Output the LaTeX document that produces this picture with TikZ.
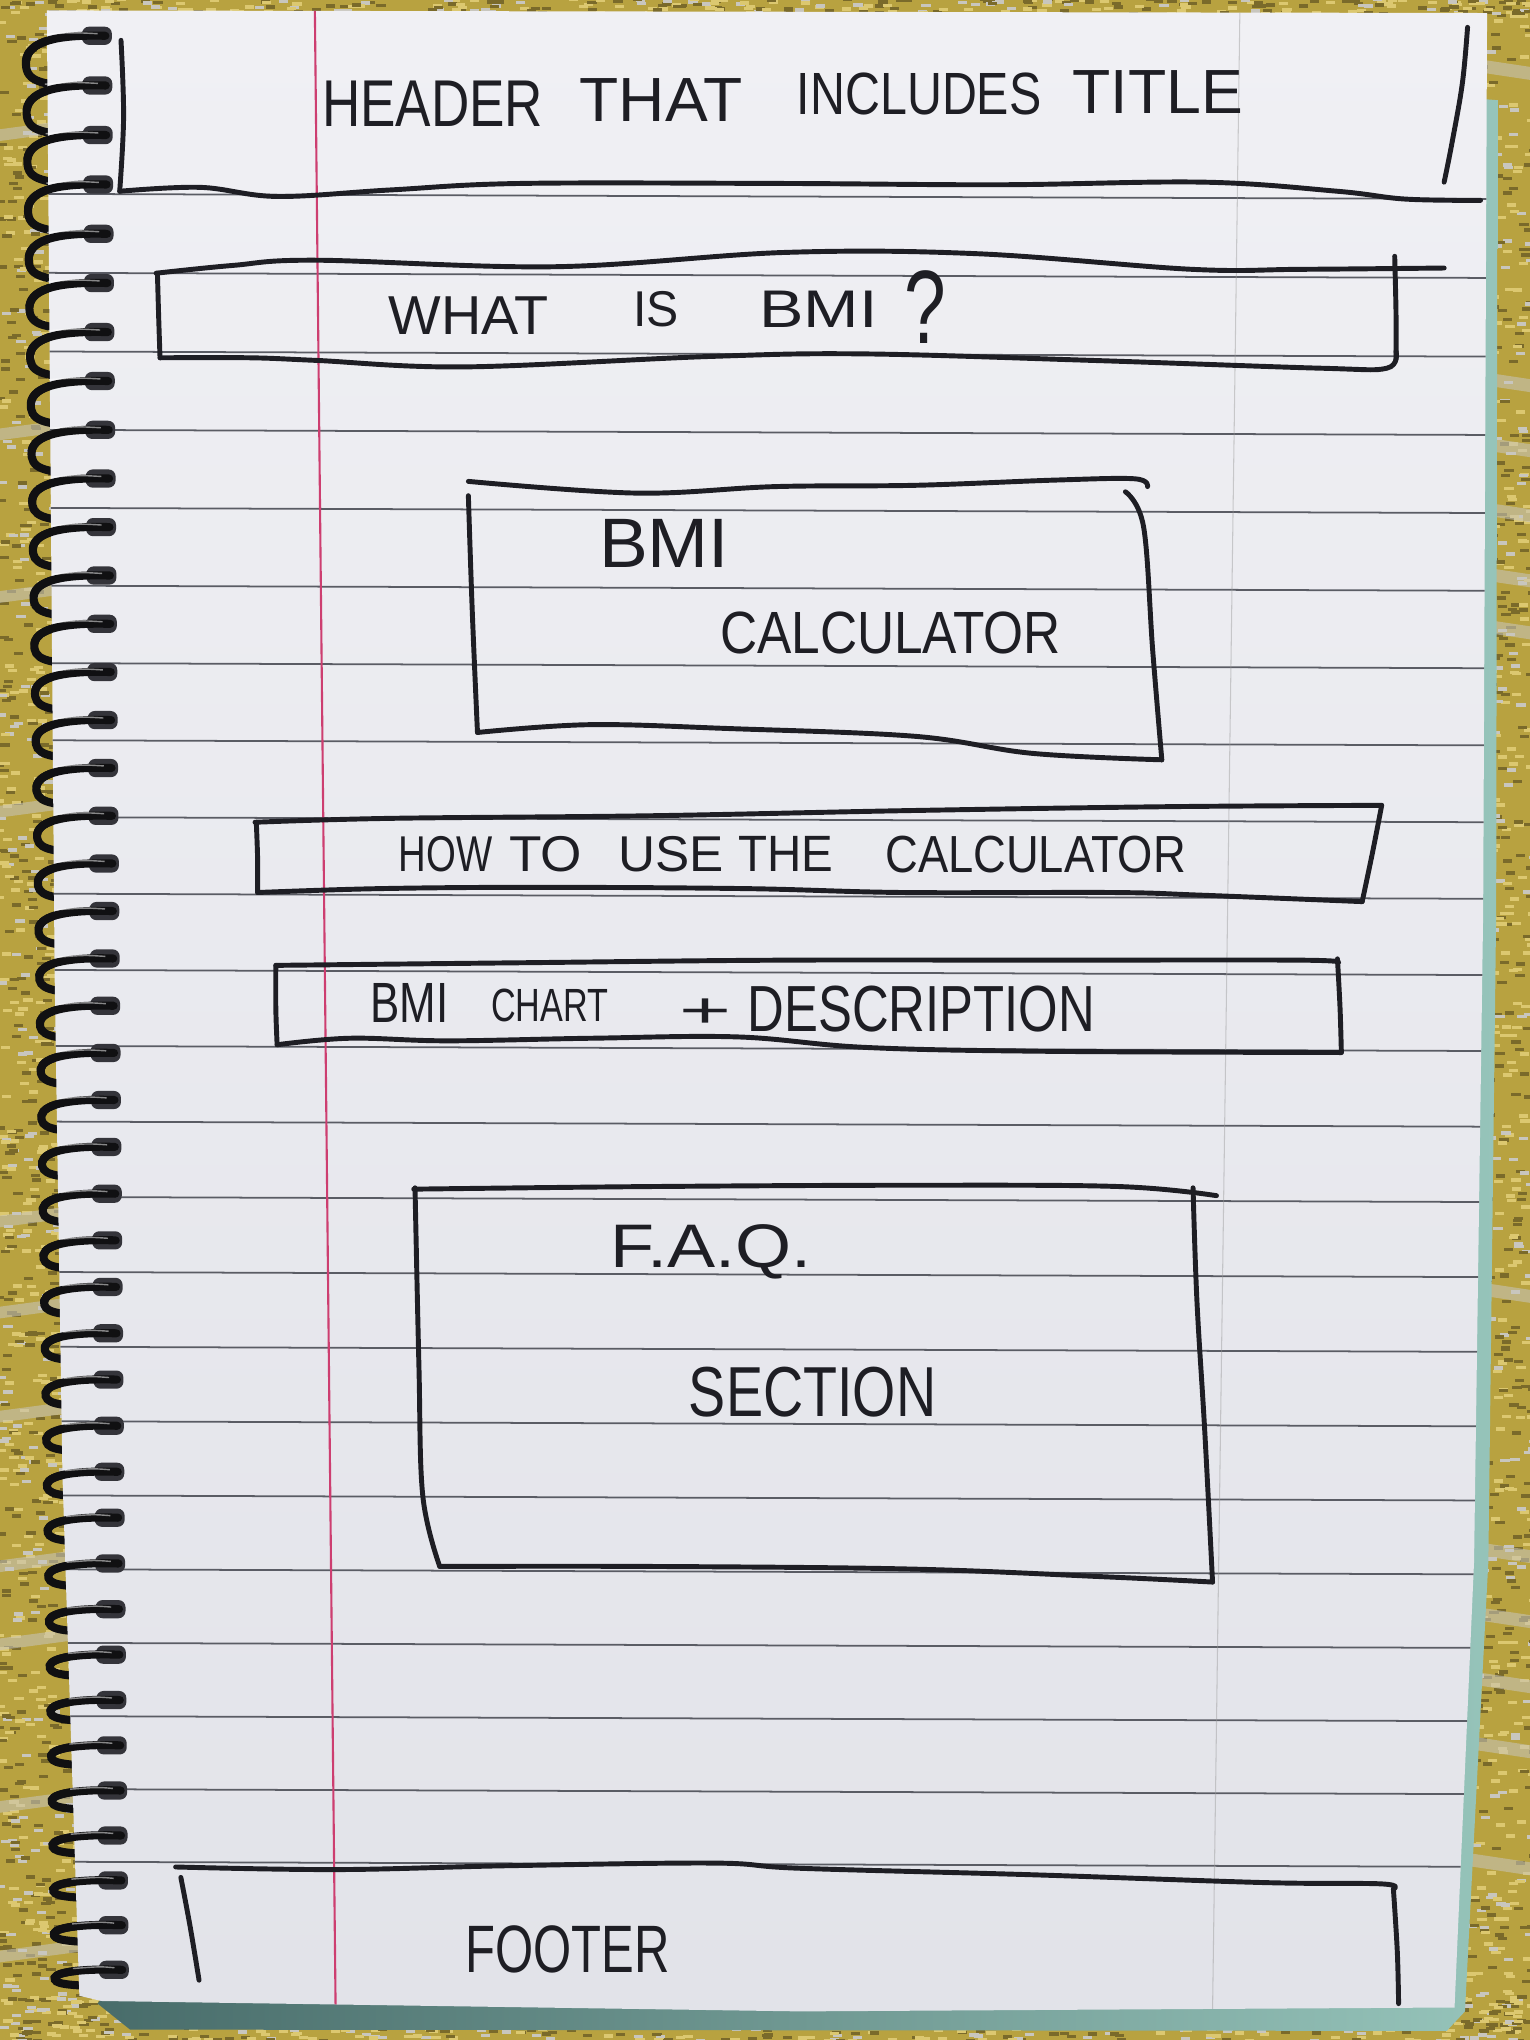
\documentclass[tikz,border=0pt]{standalone}
\usepackage{fontspec}
\setmainfont{Liberation Sans}
\usepackage{graphicx}
\newlength\ul
\setlength\ul{0.013cm}
\definecolor{ink}{RGB}{30,30,36}
\definecolor{rulec}{RGB}{90,92,100}
\definecolor{marginc}{RGB}{205,62,112}
\definecolor{fabric}{RGB}{184,162,64}
\definecolor{fabhi}{RGB}{220,200,112}
\definecolor{fabgray}{RGB}{200,198,190}
\definecolor{fabdark}{RGB}{122,106,42}
\definecolor{tealA}{RGB}{150,196,186}
\definecolor{tealB}{RGB}{72,108,106}
\definecolor{paperT}{RGB}{240,240,244}
\definecolor{paperB}{RGB}{226,227,233}
\definecolor{wire}{RGB}{16,16,18}
\definecolor{holec}{RGB}{52,52,58}
% handwritten word: name, x, baseline, width, cap height, text
\newcommand\hw[6]{\node[inner sep=0pt, anchor=base west, text=ink] (#1) at (#2,#3) {\resizebox{#4\ul}{#5\ul}{#6}};}
\pgfmathdeclarerandomlist{fabcols}{{fabhi}{fabdark}{fabgray}{fabhi}{fabdark}}
\begin{document}
\begin{tikzpicture}[x=0.013cm, y=-0.013cm,
  pen/.style={draw=ink, line width=1.4pt, line cap=round, line join=round},
  ruleline/.style={draw=rulec, line width=0.5pt},
  ringwire/.style={draw=wire, line width=2.3pt, line cap=round}]
\useasboundingbox (0,0) rectangle (1176,1568);
\clip (0,0) rectangle (1176,1568);

% --- fabric underneath the notebook
\fill[fabric] (0,0) rectangle (1176,1568);
\pgfmathsetseed{4242}
\foreach \i in {1,...,1300} {
  \pgfmathsetmacro\px{rnd*80-4}\pgfmathsetmacro\py{rnd*1570}
  \pgfmathrandomitem{\fc}{fabcols}
  \fill[\fc] (\px,\py) rectangle ++(7,2.6);
}
\foreach \i in {1,...,1100} {
  \pgfmathsetmacro\px{1105+rnd*75}\pgfmathsetmacro\py{rnd*1570}
  \pgfmathrandomitem{\fc}{fabcols}
  \fill[\fc] (\px,\py) rectangle ++(7,2.6);
}
\foreach \i in {1,...,900} {
  \pgfmathsetmacro\px{rnd*1180}\pgfmathsetmacro\py{1530+rnd*40}
  \pgfmathrandomitem{\fc}{fabcols}
  \fill[\fc] (\px,\py) rectangle ++(7,2.6);
}
\foreach \i in {1,...,350} {
  \pgfmathsetmacro\px{rnd*1180}\pgfmathsetmacro\py{rnd*14-3}
  \pgfmathrandomitem{\fc}{fabcols}
  \fill[\fc] (\px,\py) rectangle ++(7,2.6);
}
% grey woven bands of the fabric pattern
\foreach \yb in {100,330,455,620,935,1005,1085,1200,1260,1385,1500} {
  \fill[fabgray, opacity=.55] (-5,\yb) -- ++(90,-12) -- ++(0,9) -- ++(-90,12) -- cycle;
}
\foreach \yb in {40,280,330,380,430,470,980,1180,1230,1280,1330,1420} {
  \fill[fabgray, opacity=.55] (1100,\yb) -- ++(80,12) -- ++(0,10) -- ++(-80,-12) -- cycle;
}

% --- teal back cover peeking out
\shade[left color=tealB, right color=tealA]
  (1125,75) -- (1151,77) -- (1150,700) -- (1144,1200) -- (1126,1546) -- (1112,1561)
  -- (100,1560) -- (75,1540) -- cycle;

% --- spiral loops (behind the page edge)
\foreach \k in {0,...,41} {
  \pgfmathsetmacro\t{\k/41}
  \pgfmathsetmacro\yy{27.5+38.25*\k-0.0486*\k*\k}
  \pgfmathsetmacro\xr{85+13*\t}
  \pgfmathsetmacro\xl{20+22*\t}
  \pgfmathsetmacro\hh{38-26*\t}
  \draw[ringwire] (\xr-4,\yy) .. controls (\xl+25,\yy-1) and (\xl+2,\yy+0.1*\hh) .. (\xl,\yy+0.5*\hh)
     .. controls (\xl-1,\yy+0.9*\hh) and (\xl+8,\yy+\hh) .. (\xl+45,\yy+\hh+1);
}

% --- the page
\shade[top color=paperT, bottom color=paperB]
  (36,8) -- (1143,10) -- (1140,700) -- (1133,1200) -- (1118,1543) -- (615,1546) -- (78,1538) -- (61,1534)
  -- (48,1134) -- (42,750) -- cycle;
\begin{scope}
  \clip (36,8) -- (1143,10) -- (1140,700) -- (1133,1200) -- (1118,1543) -- (615,1546) -- (78,1538) -- (61,1534)
  -- (48,1134) -- (42,750) -- cycle;
  \foreach \n in {0,...,22} {
    \pgfmathsetmacro\yl{149+60.8*\n-0.115*\n*\n}
    \draw[ruleline] (30,\yl) -- (1160,\yl+4);
  }
  \draw[marginc, line width=0.6pt] (242,6) -- (258,1548);
  \draw[black!40, opacity=.45, line width=0.3pt] (953,9) -- (932,1546);
\end{scope}

% --- header
\draw[pen] plot[smooth, tension=0.6] coordinates {(93,31) (95,90) (92,147)};
\draw[pen] plot[smooth, tension=0.6] coordinates {(92,147) (154,144) (213,151) (300,146) (400,141) (600,141) (769,142) (925,140) (1028,147) (1080,153) (1138,154)};
\draw[pen] plot[smooth, tension=0.6] coordinates {(1128,21) (1124,64) (1116,110) (1110,140)};
\hw{hdrA}{247}{97}{170}{35}{HEADER}
\hw{hdrB}{445}{93}{125}{33}{THAT}
\hw{hdrC}{612}{88}{188}{32}{INCLUDES}
\hw{hdrD}{824}{87}{131}{33}{TITLE}

% --- what is BMI
\draw[pen] plot[smooth, tension=0.6] coordinates {(120,210) (179,204) (243,200) (427,205) (604,194) (751,195) (916,207) (1000,207) (1110,206)};
\draw[pen] plot[smooth, tension=0.6] coordinates {(121,210) (122,245) (123,275)};
\draw[pen] plot[smooth, tension=0.6] coordinates {(123,275) (192,275) (243,277) (357,282) (545,274) (663,272) (839,277) (1015,283) (1066,283) (1073,270)};
\draw[pen] plot[smooth, tension=0.6] coordinates {(1072,197) (1073,240) (1073,276)};
\hw{whatA}{298}{257}{123}{29}{WHAT}
\hw{whatB}{486}{251}{35}{27}{IS}
\hw{whatC}{583}{252}{91}{28}{BMI}
\hw{whatD}{695}{264}{32}{56}{?}

% --- calculator panel
\draw[pen] plot[smooth, tension=0.6] coordinates {(360,370) (489,379) (596,374) (704,373) (811,369) (872,368) (882,374)};
\draw[pen] plot[smooth, tension=0.6] coordinates {(360,381) (363,470) (367,563)};
\draw[pen] plot[smooth, tension=0.6] coordinates {(367,563) (453,557) (561,560) (704,566) (793,579) (893,584)};
\draw[pen] plot[smooth, tension=0.6] coordinates {(865,378) (879,405) (886,500) (893,584)};
\hw{calcA}{460}{436}{100}{37}{BMI}
\hw{calcB}{553}{502}{262}{32}{CALCULATOR}

% --- how to use
\draw[pen] plot[smooth, tension=0.6] coordinates {(196,632) (300,629) (500,627) (700,623) (900,620) (1062,619)};
\draw[pen] plot[smooth, tension=0.6] coordinates {(197,632) (198,660) (198,686)};
\draw[pen] plot[smooth, tension=0.6] coordinates {(198,686) (292,683) (413,682) (573,683) (694,686) (855,686) (922,688) (1047,693)};
\draw[pen] plot[smooth, tension=0.6] coordinates {(1062,619) (1055,655) (1047,693)};
\hw{howA}{306}{670}{72}{27}{HOW}
\hw{howB}{391}{670}{56}{27}{TO}
\hw{howC}{475}{670}{81}{27}{USE}
\hw{howD}{567}{670}{73}{27}{THE}
\hw{howE}{680}{671}{231}{28}{CALCULATOR}

% --- chart + description
\draw[pen] plot[smooth, tension=0.6] coordinates {(212,742) (400,740) (600,738) (800,738) (1000,738) (1028,740)};
\draw[pen] plot[smooth, tension=0.6] coordinates {(212,742) (212,775) (213,803)};
\draw[pen] plot[smooth, tension=0.6] coordinates {(213,803) (269,798) (344,800) (455,798) (567,797) (664,805) (800,808) (1031,809)};
\draw[pen] plot[smooth, tension=0.6] coordinates {(1028,737) (1030,775) (1031,809)};
\hw{chA}{284}{786}{60}{30}{BMI}
\hw{chB}{377}{785}{90}{25}{CHART}
\hw{chC}{522}{790}{40}{22}{+}
\hw{chD}{574}{793}{267}{35}{DESCRIPTION}

% --- FAQ panel
\draw[pen] plot[smooth, tension=0.6] coordinates {(318,914) (500,912) (700,911) (860,912) (935,919)};
\draw[pen] plot[smooth, tension=0.6] coordinates {(319,913) (322,1050) (325,1150) (338,1204)};
\draw[pen] plot[smooth, tension=0.6] coordinates {(338,1204) (500,1204) (700,1206) (850,1212) (932,1216)};
\draw[pen] plot[smooth, tension=0.6] coordinates {(917,913) (920,1000) (926,1100) (932,1216)};
\hw{faqA}{469}{974}{154}{33}{F.A.Q.}
\hw{faqB}{529}{1089}{190}{38}{SECTION}

% --- footer
\draw[pen] plot[smooth, tension=0.6] coordinates {(135,1435) (259,1437) (392,1434) (549,1432) (615,1436) (794,1441) (972,1447) (1062,1448) (1071,1452)};
\draw[pen] plot[smooth, tension=0.6] coordinates {(1071,1452) (1074,1500) (1075,1540)};
\draw[pen] plot[smooth, tension=0.6] coordinates {(139,1443) (146,1480) (153,1522)};
\hw{foot}{357}{1516}{157}{36}{FOOTER}

% --- spiral: holes and the wire passing over the page
\foreach \k in {0,...,41} {
  \pgfmathsetmacro\t{\k/41}
  \pgfmathsetmacro\yy{27.5+38.25*\k-0.0486*\k*\k}
  \pgfmathsetmacro\xr{85+13*\t}
  \pgfmathsetmacro\xl{20+22*\t}
  \pgfmathsetmacro\hh{38-26*\t}
  \fill[holec, rounded corners=2pt] (\xr-22,\yy-7) rectangle (\xr+1,\yy+7);
  \draw[ringwire] (\xr-4,\yy) .. controls (\xl+25,\yy-1) and (\xl+2,\yy+0.1*\hh) .. (\xl,\yy+0.5*\hh);
  \draw[white, opacity=.5, line width=0.4pt] (\xr-10,\yy-1.6) .. controls (\xl+35,\yy-2.6) .. (\xl+14,\yy-1);
}
\end{tikzpicture}
\end{document}
